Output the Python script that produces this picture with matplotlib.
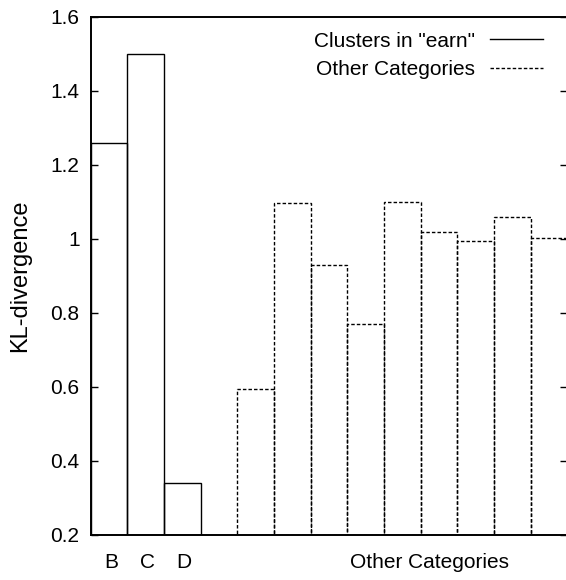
import matplotlib.pyplot as plt
from matplotlib.lines import Line2D

plt.rcParams['font.family'] = ['Liberation Sans', 'DejaVu Sans']

# clusters in "earn"
earn_labels = ['B', 'C', 'D']
earn_kl = [1.26, 1.50, 0.341]
# other categories
other_kl = [0.594, 1.098, 0.930, 0.770, 1.099, 1.018, 0.995, 1.060, 1.003]

fs = 15
dash = (0, (2.5, 1.5))

fig = plt.figure(figsize=(5.66, 5.8), dpi=100)
ax = fig.add_axes([0.1602, 0.0776, 0.8424, 0.8931])

earn_x = list(range(len(earn_labels)))
other_x = [4 + i for i in range(len(other_kl))]

ax.bar(earn_x, [v - 0.2 for v in earn_kl], bottom=0.2, width=1, align='edge',
       fill=False, edgecolor='black', linewidth=1.0)
ax.bar(other_x, [v - 0.2 for v in other_kl], bottom=0.2, width=1, align='edge',
       fill=False, edgecolor='black', linewidth=1.0, linestyle=dash)

ax.set_xlim(0, 13)
ax.set_ylim(0.2, 1.6)
ax.set_yticks([0.2, 0.4, 0.6, 0.8, 1.0, 1.2, 1.4, 1.6])
ax.set_yticklabels(['0.2', '0.4', '0.6', '0.8', '1', '1.2', '1.4', '1.6'])
ax.tick_params(axis='y', direction='in', length=5, width=1, labelsize=fs,
               right=True, pad=8)
ax.set_xticks([])
ax.spines['right'].set_visible(False)
for s in ['left', 'top', 'bottom']:
    ax.spines[s].set_linewidth(1.4)

for lab, x in zip(earn_labels, earn_x):
    ax.text(x + 0.55, -0.053, lab, transform=ax.get_xaxis_transform(),
            ha='center', va='center', fontsize=fs)
ax.text(9.25, -0.053, 'Other Categories', transform=ax.get_xaxis_transform(),
        ha='center', va='center', fontsize=fs)

ax.set_ylabel('KL-divergence', fontsize=17, labelpad=14)

handles = [Line2D([], [], color='black', linewidth=1.0),
           Line2D([], [], color='black', linewidth=1.0, linestyle=dash)]
ax.legend(handles, ['Clusters in "earn"', 'Other Categories'],
          loc='upper right', bbox_to_anchor=(0.9486, 0.9715), frameon=False,
          fontsize=fs, markerfirst=False, handlelength=2.55, handletextpad=0.7,
          labelspacing=0.45, borderpad=0, borderaxespad=0)

fig.savefig('out.png', dpi=100)
